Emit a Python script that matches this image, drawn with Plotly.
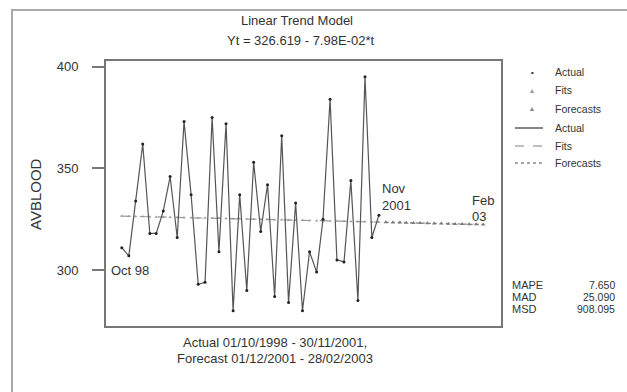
import pandas as pd
import plotly.graph_objects as go

# Monthly AVBLOOD series, Oct 1998 - Nov 2001
actual_months = pd.date_range("1998-10-01", "2001-11-01", freq="MS")
actual_values = [
    311, 307, 334, 362, 318, 318, 329, 346, 316, 373,
    337, 293, 294, 375, 309, 372, 280, 337, 290, 353,
    319, 342, 287, 366, 284, 333, 280, 309, 299, 325,
    384, 305, 304, 344, 285, 395, 316, 327,
]

# Linear trend fits (t = 1..38) and forecasts (t = 39..53)
fit_values = [
    326.54, 326.46, 326.38, 326.30, 326.22, 326.14, 326.06, 325.98, 325.90, 325.82,
    325.74, 325.66, 325.58, 325.50, 325.42, 325.34, 325.26, 325.18, 325.10, 325.02,
    324.94, 324.86, 324.78, 324.70, 324.62, 324.54, 324.46, 324.38, 324.30, 324.23,
    324.15, 324.07, 323.99, 323.91, 323.83, 323.75, 323.67, 323.59,
]
forecast_months = pd.date_range("2001-12-01", "2003-02-01", freq="MS")
forecast_values = [
    323.51, 323.43, 323.35, 323.27, 323.19, 323.11, 323.03, 322.95,
    322.87, 322.79, 322.71, 322.63, 322.55, 322.47, 322.39,
]

y_ticks = [300, 350, 400]
legend_labels = ["Actual", "Fits", "Forecasts"]
accuracy_names = ["MAPE", "MAD", "MSD"]
accuracy_values = ["7.650", "25.090", "908.095"]

FONT = "Liberation Sans, Arial, sans-serif"
W, H = 627, 392
L, R, T, B = 106, 501, 61, 326


def xp(px):
    return (px - L) / (R - L)


def yp(py):
    return (B - py) / (B - T)


fig = go.Figure()

fig.add_trace(go.Scatter(
    x=actual_months, y=fit_values, mode="lines+markers",
    line=dict(color="#9a9a9a", width=1.2, dash="dash"),
    marker=dict(symbol="triangle-up", size=3, color="#9a9a9a"),
    showlegend=False, hoverinfo="skip",
))
fig.add_trace(go.Scatter(
    x=forecast_months, y=forecast_values, mode="lines+markers",
    line=dict(color="#7a7a7a", width=1.2, dash="dot"),
    marker=dict(symbol="triangle-up", size=4, color="#7a7a7a"),
    showlegend=False, hoverinfo="skip",
))
fig.add_trace(go.Scatter(
    x=actual_months, y=actual_values, mode="lines+markers",
    line=dict(color="#555555", width=1.2),
    marker=dict(symbol="circle", size=3, color="#222222"),
    showlegend=False,
))

annotations = []


def text(px, py, s, size=10, xanchor="left", color="#333", angle=0):
    annotations.append(dict(
        xref="paper", yref="paper", x=xp(px), y=yp(py), text=s,
        showarrow=False, xanchor=xanchor, yanchor="middle", textangle=angle,
        font=dict(family=FONT, size=size, color=color),
    ))


# Header
text(297, 20, "Linear Trend Model", size=13, xanchor="center")
text(300, 40, "Yt = 326.619 - 7.98E-02*t", size=13, xanchor="center")

# Axis title
text(35, 194, "AVBLOOD", size=15, xanchor="center", angle=-90)

# Point labels
text(109, 270, "Oct 98", size=13)
text(380, 188, "Nov", size=13)
text(380, 205, "2001", size=13)
text(470, 200, "Feb", size=13)
text(470, 216, "03", size=13)

# Footer
text(275, 342, "Actual 01/10/1998 - 30/11/2001,", size=13, xanchor="center")
text(275, 358, "Forecast 01/12/2001 - 28/02/2003", size=13, xanchor="center")

# Legend
shapes = []
rows = [72, 90, 109, 128, 146, 163]
sym_colors = ["#222", "#999", "#888"]
sym_chars = ["\u2022", "\u25b4", "\u25b4"]
for i, lab in enumerate(legend_labels):
    text(532, rows[i], sym_chars[i], size=8, xanchor="center", color=sym_colors[i])
    text(553, rows[i], lab, size=10.5)
line_styles = [("#444", "solid"), ("#aaa", "dash"), ("#888", "dot")]
for i, lab in enumerate(legend_labels):
    c, d = line_styles[i]
    shapes.append(dict(type="line", xref="paper", yref="paper",
                       x0=xp(515), x1=xp(543), y0=yp(rows[3 + i]), y1=yp(rows[3 + i]),
                       line=dict(color=c, width=1.3, dash=d)))
    text(553, rows[3 + i], lab, size=10.5)

# Accuracy measures
stat_rows = [285, 297, 309]
for name, val, r in zip(accuracy_names, accuracy_values, stat_rows):
    text(510, r, name, size=11)
    text(617, r, val, size=10.5, xanchor="right")

# Outer frame
shapes.append(dict(type="rect", xref="paper", yref="paper",
                   x0=xp(12), x1=xp(660), y0=yp(10), y1=yp(420),
                   line=dict(color="#aaaaaa", width=2), layer="below"))

fig.update_layout(
    width=W, height=H,
    margin=dict(l=L, r=W - R, t=T, b=H - B),
    paper_bgcolor="white", plot_bgcolor="white",
    showlegend=False,
    annotations=annotations, shapes=shapes,
    font=dict(family=FONT, color="#333"),
)
fig.update_xaxes(
    range=["1998-07-24", "2003-04-20"], showticklabels=False, ticks="",
    showgrid=False, zeroline=False,
    showline=True, mirror=True, linecolor="#777", linewidth=2,
)
fig.update_yaxes(
    range=[272.5, 402.8], tickvals=y_ticks, ticks="outside", ticklen=12,
    tickcolor="#777", tickwidth=1.5, ticklabelstandoff=11,
    tickfont=dict(family=FONT, size=13, color="#333"),
    showgrid=False, zeroline=False,
    showline=True, mirror=True, linecolor="#777", linewidth=2,
)

fig.write_html("out.html")
